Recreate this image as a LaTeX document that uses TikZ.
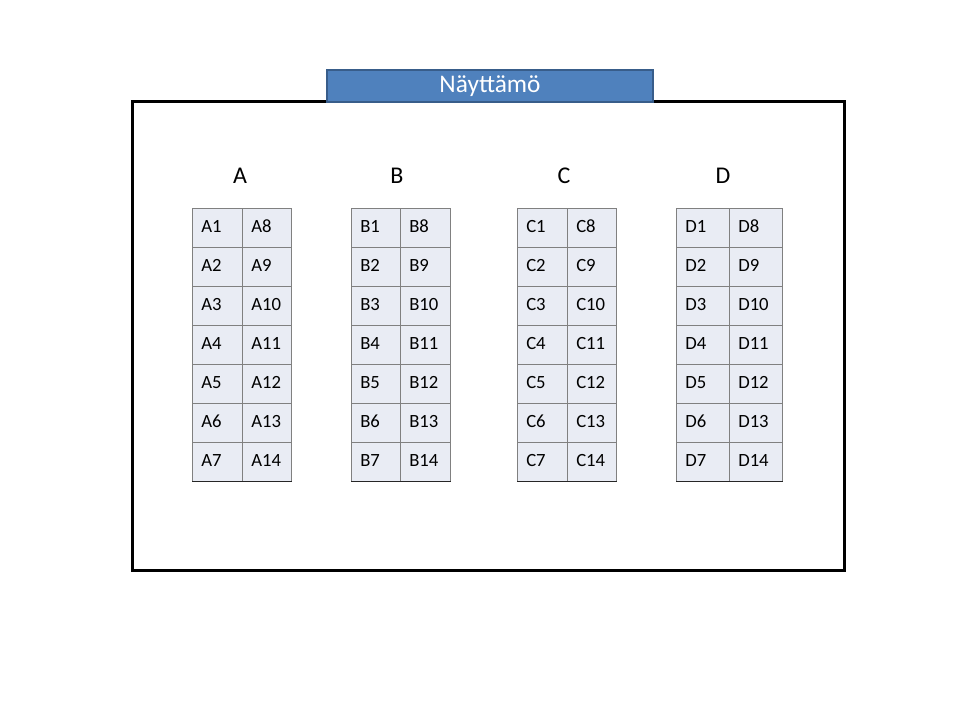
\documentclass[tikz,border=0pt]{standalone}
\usepackage{fontspec}
\setmainfont{Carlito}
\usepackage{xcolor}
\definecolor{stageblue}{RGB}{79,129,189}
\definecolor{stageedge}{RGB}{56,93,138}
\definecolor{seatfill}{RGB}{233,236,244}

\begin{document}
\begin{tikzpicture}[
		x=0.75pt, y=-0.75pt, % 1 unit = 1 px of the 960x720 slide
		hall/.style={draw=black, line width=2.25pt},
		stage/.style={rectangle, draw=stageedge, fill=stageblue, line width=1.5pt, minimum width=244.5pt, minimum height=24pt, text=white, font=\fontsize{19}{21}\selectfont},
		heading/.style={font=\fontsize{18}{20}\selectfont},
		seat/.style={rectangle, draw=black!50, fill=seatfill, anchor=north west, minimum height=29.25pt, inner ysep=0pt, inner xsep=6.75pt, text depth=2.5pt, align=left, font=\fontsize{14}{16}\selectfont},
		rowline/.style={draw=black!85, line width=0.8pt}
		]
		
		% Slide area
		\useasboundingbox (0,0) rectangle (960,720);
		
		% Hall and stage
		\draw[hall] (132,102) rectangle (844,570);
		\node[stage] (stage) at (490,86) {Näyttämö};
		
		% Seat blocks
		\foreach \s/\xl/\xm/\xr/\xh in {A/192/242/291/240, B/351/400/450/397, C/517/567/616/564, D/676/729/782/723}{
			\node[heading] (h\s) at (\xh,176) {\s};
			\foreach \r in {1,...,7}{
				\pgfmathtruncatemacro{\n}{\r+7}
				\node[seat, text width={(\xm-\xl-18)*0.75pt}] (\s\r) at (\xl,{208+39*(\r-1)}) {\s\r};
				\node[seat, text width={(\xr-\xm-18)*0.75pt}] (\s\n) at (\xm,{208+39*(\r-1)}) {\s\n};
				\draw[rowline] (\s\r.south west) -- (\s\n.south east);
			}
		}
	\end{tikzpicture}
\end{document}
